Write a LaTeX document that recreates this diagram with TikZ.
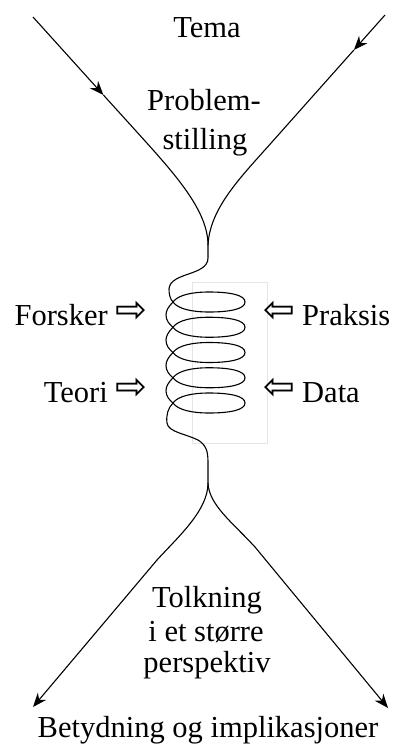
\documentclass[tikz,border=0pt]{standalone}
\usepackage{fontspec}
\setmainfont{Liberation Serif}
\newfontfamily\symfont{DejaVu Sans}
\usetikzlibrary{arrows.meta}
\begin{document}
\begin{tikzpicture}[x=1pt,y=-1pt,
  curve/.style={line width=1.1pt, line join=round},
  tip/.style={-{Stealth[length=14pt,width=11pt,inset=4.5pt]}},
  lbl/.style={font=\fontsize{30.5}{36}\selectfont, inner sep=0pt, anchor=base},
  sym/.style={font=\symfont\fontsize{38}{44}\selectfont, inner sep=0pt},
]
\useasboundingbox (0,0) rectangle (395,747);

% faint frame behind the coil
\draw[black!10, line width=0.6pt] (192,282) rectangle (267,443);

% funnel in
\coordinate (tl) at (33,17);
\coordinate (tlm) at (103.4,95);
\coordinate (tlb) at (136,131);
\coordinate (tr) at (385,15);
\coordinate (trm) at (353.9,50);
\coordinate (trb) at (272,142);
\coordinate (join) at (208,245);

\draw[curve, tip] (tl) -- (tlm);
\draw[curve] (tlm) -- (tlb) .. controls (174,173) and (208,210) .. (join);
\draw[curve, tip] (tr) -- (trm);
\draw[curve] (trm) -- (trb) .. controls (240,178) and (210,208) .. (join);

% coil
\coordinate (split) at (208,483);
\draw[curve] (join) -- (208,258)
  .. controls (208,276) and (170,272) .. (169,289)
  .. controls (169,294) and (170,299) .. (173,302)
  \foreach \y in {302,327.25,352.5,377.75} {
    .. controls (178,{\y+7}) and (192,{\y+10}) .. (209,{\y+10})
    .. controls (230,{\y+10}) and (245,{\y+7}) .. (245,\y)
    .. controls (245,{\y-7}) and (230,{\y-10}) .. (209,{\y-10})
    .. controls (192,{\y-10}) and (178,{\y-7}) .. (173,\y)
    .. controls (168,{\y+5}) and (166,{\y+9}) .. (166,{\y+13})
    .. controls (166,{\y+18}) and (169,{\y+22}) .. (173,{\y+25.25})
  }
  .. controls (178,410) and (192,413) .. (209,413)
  .. controls (230,413) and (245,410) .. (245,403)
  .. controls (245,396) and (230,393) .. (209,393)
  .. controls (192,393) and (178,396) .. (173,403)
  .. controls (168,408) and (166,415) .. (167,423)
  .. controls (168,432) and (186,434) .. (198,440)
  .. controls (206,445) and (208,451) .. (208,462)
  -- (split);

% funnel out
\coordinate (bl) at (33,707);
\coordinate (br) at (388,708);
\draw[curve, tip] (split) .. controls (208,510) and (180,535) .. (157,560) -- (bl);
\draw[curve, tip] (split) .. controls (209,505) and (232,522) .. (255,547) -- (br);

% labels
\node[lbl] (tema) at (207,37) {Tema};
\node[lbl] (prob1) at (204,110) {Problem-};
\node[lbl] (prob2) at (205,149) {stilling};

\node[lbl, anchor=base east] (forsker) at (108,325) {Forsker};
\node[sym] (af) at (131,312) {⇨};
\node[lbl, anchor=base west] (praksis) at (302,325) {Praksis};
\node[sym] (ap) at (279,312) {⇦};
\node[lbl, anchor=base east] (teori) at (108,402) {Teori};
\node[sym] (at) at (131,389) {⇨};
\node[lbl, anchor=base west] (data) at (302,402) {Data};
\node[sym] (ad) at (279,389) {⇦};

\node[lbl] (tolk1) at (207,607) {Tolkning};
\node[lbl] (tolk2) at (206,641) {i et større};
\node[lbl] (tolk3) at (207,672) {perspektiv};
\node[lbl] (bet) at (208,737) {Betydning og implikasjoner};
\end{tikzpicture}
\end{document}
